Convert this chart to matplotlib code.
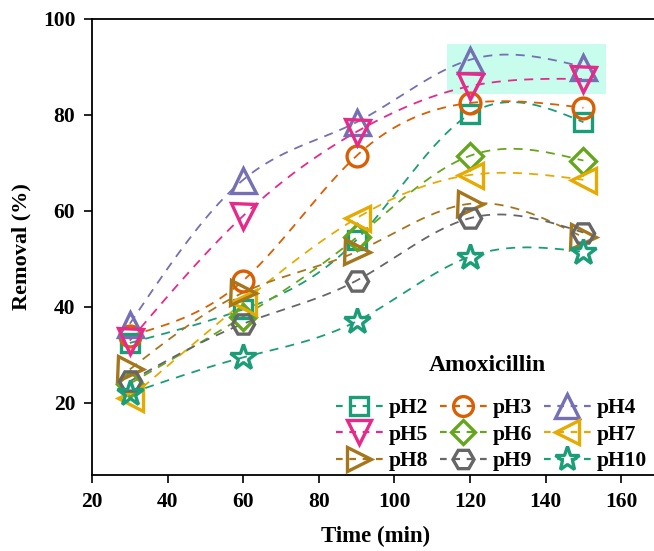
import numpy as np
import matplotlib.pyplot as plt
from matplotlib.patches import Rectangle

plt.rcParams['font.family'] = ['Liberation Serif', 'DejaVu Serif']
plt.rcParams['font.weight'] = 'bold'

time = [30, 60, 90, 120, 150]
ph2 = [32.5, 39.5, 54, 80.2, 78.5]
ph3 = [34, 45.5, 71.5, 82.5, 81.5]
ph4 = [36.5, 66.5, 78.5, 91.5, 90]
ph5 = [33, 59, 76.5, 86, 87.5]
ph6 = [24, 38, 54.5, 71.5, 70.5]
ph7 = [21, 41, 58.5, 67.5, 66.5]
ph8 = [27, 43, 51.5, 61.5, 54.5]
ph9 = [24.5, 36.5, 45.5, 58.5, 55.5]
ph10 = [22, 29.5, 37, 50.5, 51.5]

labels = ["pH2", "pH3", "pH4", "pH5", "pH6", "pH7", "pH8", "pH9", "pH10"]
series = [ph2, ph3, ph4, ph5, ph6, ph7, ph8, ph9, ph10]
colors = ["#1b9e77", "#d95f02", "#7570b3", "#e7298a", "#66a61e",
          "#e6ab02", "#a6761d", "#666666", "#1b9e77"]
markers = ["s", "o", "^", "v", "D", "<", ">", "H", "*"]
msizes = [13, 15, 18, 18, 13, 18, 18, 16, 19]


def smooth(x, y, n=200):
    # natural cubic spline, only for drawing the curve
    x = np.asarray(x, float)
    y = np.asarray(y, float)
    k = len(x)
    h = np.diff(x)
    A = np.zeros((k, k))
    b = np.zeros(k)
    A[0, 0] = A[-1, -1] = 1
    for i in range(1, k - 1):
        A[i, i - 1] = h[i - 1]
        A[i, i] = 2 * (h[i - 1] + h[i])
        A[i, i + 1] = h[i]
        b[i] = 3 * ((y[i + 1] - y[i]) / h[i] - (y[i] - y[i - 1]) / h[i - 1])
    c = np.linalg.solve(A, b)
    xs = np.linspace(x[0], x[-1], n)
    idx = np.clip(np.searchsorted(x, xs) - 1, 0, k - 2)
    dx = xs - x[idx]
    bb = (y[idx + 1] - y[idx]) / h[idx] - h[idx] * (c[idx + 1] + 2 * c[idx]) / 3
    d = (c[idx + 1] - c[idx]) / (3 * h[idx])
    return xs, y[idx] + bb * dx + c[idx] * dx ** 2 + d * dx ** 3


fig = plt.figure(figsize=(6.54, 5.51), dpi=100)
ax = fig.add_axes([0.1407, 0.138, 0.867, 0.8276])

ax.add_patch(Rectangle((114, 84.4), 42, 10.4, color="#c8fcec", zorder=0, lw=0))

handles = []
for y, lab, col, m, ms in zip(series, labels, colors, markers, msizes):
    xs, ys = smooth(time, y)
    ax.plot(xs, ys, color=col, lw=1.3, dashes=(5, 4), zorder=2)
    ax.plot(time, y, ls="none", marker=m, ms=ms, mfc="none", mec=col, mew=2.4, zorder=3)
    h, = ax.plot([], [], color=col, lw=1.6, dashes=(3, 3), marker=m, ms=ms * 0.95,
                 mfc="none", mec=col, mew=2.4, label=lab)
    handles.append(h)

# legend fills column-wise, reorder so rows read pH2 pH3 pH4 ...
order = [0, 3, 6, 1, 4, 7, 2, 5, 8]
leg = ax.legend([handles[i] for i in order], [labels[i] for i in order],
                loc="lower right", bbox_to_anchor=(0.978, 0.008), ncol=3, frameon=False,
                fontsize=15.5, handlelength=2.2, borderpad=0, borderaxespad=0,
                handletextpad=0.25, columnspacing=0.55, labelspacing=0.3,
                numpoints=1)
ax.text(0.698, 0.241, "Amoxicillin", transform=ax.transAxes, ha="center",
        va="center", fontsize=17, fontweight="bold")

ax.set_xlim(20, 170)
ax.set_ylim(5, 100)
ax.set_xticks([20, 40, 60, 80, 100, 120, 140, 160])
ax.set_yticks([20, 40, 60, 80, 100])
ax.tick_params(direction="out", length=6, width=1.2, labelsize=15.5, pad=6)
for s in ax.spines.values():
    s.set_linewidth(1.3)
ax.set_xlabel("Time (min)", fontsize=16.5, fontweight="bold", labelpad=10)
ax.set_ylabel("Removal (%)", fontsize=16, fontweight="bold", labelpad=8)

fig.savefig("out.png", dpi=100)
